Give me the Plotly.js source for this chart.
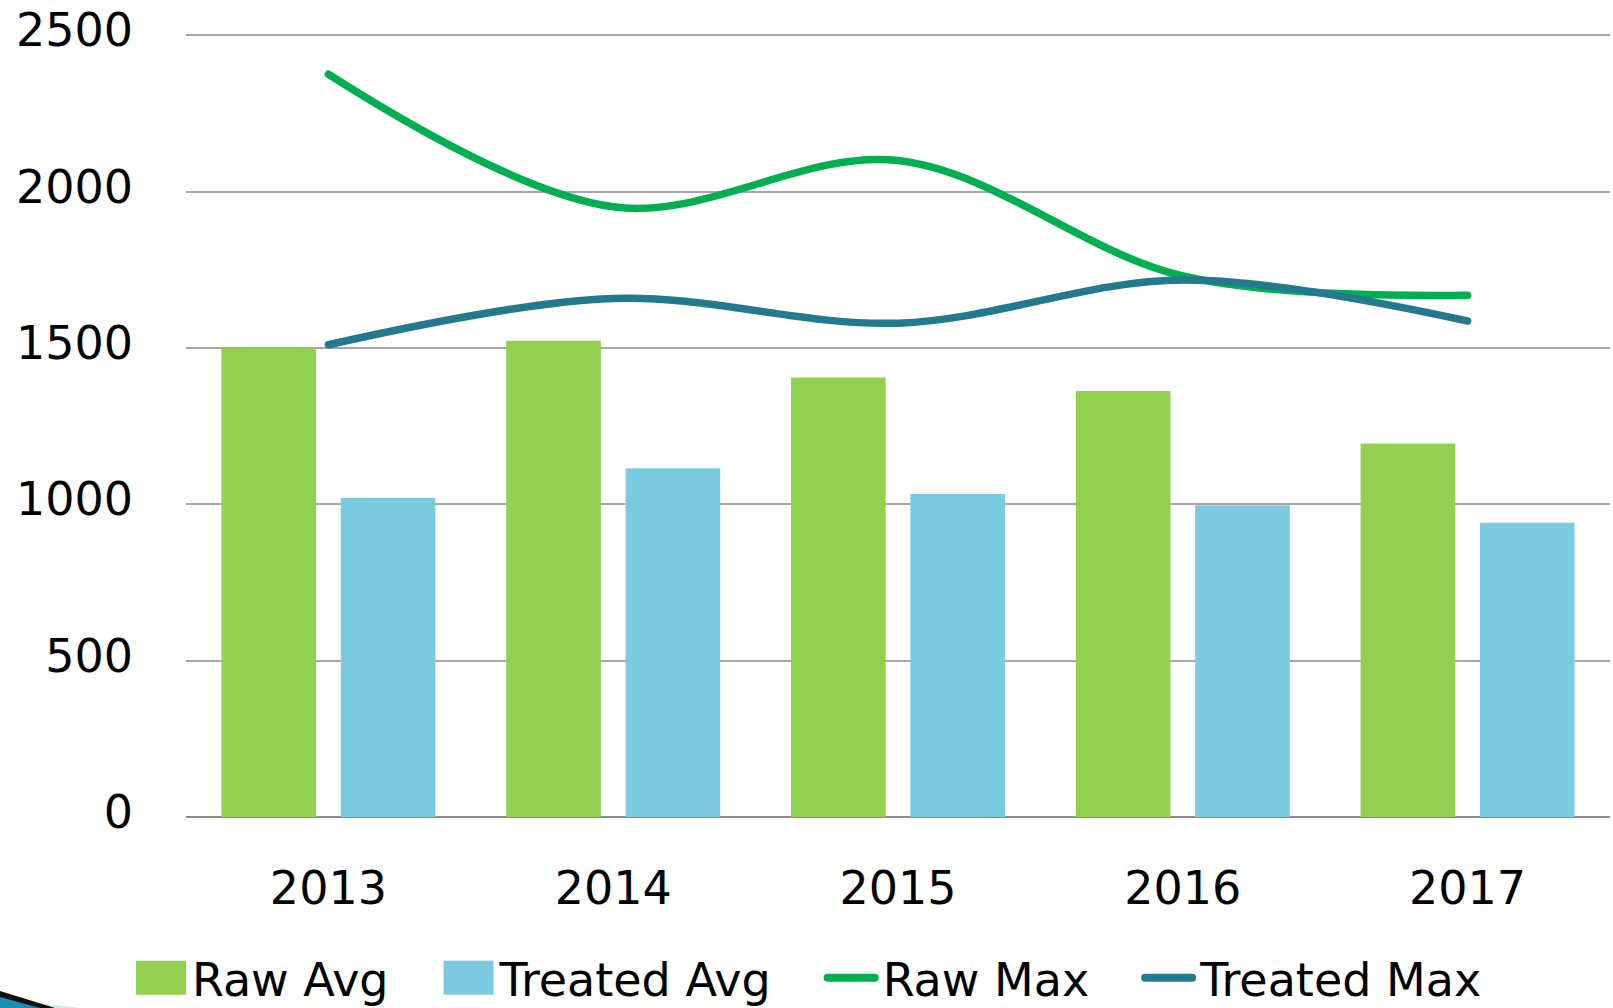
<!DOCTYPE html>
<html><head><meta charset="utf-8">
<script src="https://cdn.plot.ly/plotly-3.0.1.min.js"></script>
<style>html,body{margin:0;padding:0;background:#fff;}#chart{width:1613px;height:1008px;}</style>
</head><body><div id="chart"></div>
<script>
const years = ['2013', '2014', '2015', '2016', '2017'];
const rawAvg = [1500, 1523, 1405, 1362, 1194];
const treatedAvg = [1020, 1115, 1033, 997, 941];
const rawMax = [2375, 1951, 2099, 1730, 1668];
const treatedMax = [1510, 1658, 1579, 1717, 1586];
const seriesNames = ['Raw Avg', 'Treated Avg', 'Raw Max', 'Treated Max'];
const yTicks = [0, 500, 1000, 1500, 2000, 2500];

const FONT = 'DejaVu Sans, Verdana, sans-serif';

const data = [
  {type: 'bar', name: seriesNames[0], x: years, y: rawAvg, marker: {color: '#92D050'}},
  {type: 'bar', name: seriesNames[1], x: years, y: treatedAvg, marker: {color: '#7BCBE0'}},
  {type: 'scatter', mode: 'lines', name: seriesNames[2], x: years, y: rawMax,
   line: {color: '#00B050', width: 7.5, shape: 'spline', smoothing: 1}},
  {type: 'scatter', mode: 'lines', name: seriesNames[3], x: years, y: treatedMax,
   line: {color: '#237A8E', width: 7.5, shape: 'spline', smoothing: 1}}
];

function px(x) { return (x - 186) / 1424; }
function py(y) { return (817 - y) / 785; }

const layout = {
  width: 1613, height: 1008,
  margin: {l: 186, r: 3, t: 32, b: 191},
  paper_bgcolor: '#ffffff', plot_bgcolor: '#ffffff',
  barmode: 'group', bargap: 0.162, bargroupgap: 0.207,
  font: {family: FONT, color: '#000000', size: 46},
  xaxis: {
    type: 'category', showgrid: false, showline: false, zeroline: false, ticks: '',
    tickfont: {family: FONT, size: 46, color: '#000000'}, ticklabelstandoff: 40
  },
  yaxis: {
    range: [0, 2510], tickvals: yTicks, showgrid: true, gridcolor: '#A6A6A6', gridwidth: 2,
    zeroline: true, zerolinecolor: '#8C8C8C', zerolinewidth: 2, showline: false, ticks: '',
    tickfont: {family: FONT, size: 46, color: '#000000'}, ticklabelstandoff: 52
  },
  showlegend: true,
  legend: {
    orientation: 'h', xref: 'container', yref: 'container', x: 0.0533, xanchor: 'left',
    y: 0.030, yanchor: 'middle', font: {family: FONT, size: 46, color: '#000000'},
    itemwidth: 96, traceorder: 'normal', bgcolor: 'rgba(0,0,0,0)'
  },
  shapes: [
    {type: 'path', xref: 'paper', yref: 'paper',
     path: `M ${px(0)} ${py(999)} L ${px(82)} ${py(1008)} L ${px(0)} ${py(1008)} Z`,
     fillcolor: '#CFE8F2', line: {width: 0}},
    {type: 'path', xref: 'paper', yref: 'paper',
     path: `M ${px(0)} ${py(991)} L ${px(55)} ${py(1008)} L ${px(0)} ${py(1008)} Z`,
     fillcolor: '#111111', line: {width: 0}},
    {type: 'path', xref: 'paper', yref: 'paper',
     path: `M ${px(0)} ${py(997)} L ${px(40)} ${py(1008)} L ${px(0)} ${py(1008)} Z`,
     fillcolor: '#1A8FB2', line: {width: 0}}
  ]
};

Plotly.newPlot('chart', data, layout, {staticPlot: true}).then(gd => {
  gd.querySelectorAll('.scatterlayer .js-line').forEach(p => p.style.strokeLinecap = 'round');
  gd.querySelectorAll('.ytick text').forEach(t => {
    const y = parseFloat(t.getAttribute('y') || '0');
    t.setAttribute('y', String(y - 5));
  });
  const traces = gd.querySelectorAll('.legend .traces');
  traces.forEach((t, i) => {
    if (i < 2) {
      t.querySelectorAll('.legendpoints path').forEach(p => p.setAttribute('d', 'M-3,-17h50v34h-50z'));
    } else {
      t.querySelectorAll('.legendlines path').forEach(p => {
        p.setAttribute('d', 'M51,0h47');
        p.style.strokeLinecap = 'round';
        p.style.strokeWidth = '8px';
      });
    }
  });
});
</script>
</body></html>
